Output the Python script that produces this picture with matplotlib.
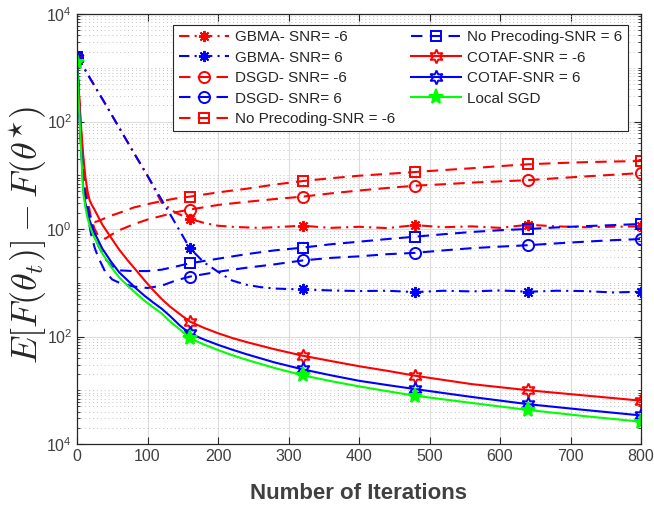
import numpy as np
import matplotlib
matplotlib.use("Agg")
import matplotlib.pyplot as plt
from matplotlib.ticker import FixedLocator, FixedFormatter, LogLocator, NullFormatter

plt.rcParams['font.family'] = ['Liberation Sans', 'DejaVu Sans']
plt.rcParams['mathtext.fontset'] = 'custom'
plt.rcParams['mathtext.rm'] = 'Liberation Sans'
plt.rcParams['mathtext.it'] = 'Liberation Sans:italic'

# ---------------- data ----------------
iters_g = [0, 20, 40, 60, 80, 100, 120, 140, 160, 180, 200, 220, 240, 260, 280,
           320, 360, 400, 440, 480, 520, 560, 600, 640, 680, 720, 760, 800]
gbma_m6 = [1650, 590, 214, 76, 27, 9.8, 3.1, 2.0, 1.55, 1.3, 1.15, 1.1, 1.07, 1.05, 1.08,
           1.15, 1.05, 1.1, 1.04, 1.18, 1.08, 1.12, 1.05, 1.2, 1.12, 1.08, 1.1, 1.12]
gbma_6 = [1650, 590, 214, 76, 27, 9.8, 3.5, 1.25, 0.44, 0.24, 0.16, 0.11, 0.092, 0.083, 0.078,
          0.075, 0.072, 0.07, 0.071, 0.067, 0.071, 0.069, 0.072, 0.068, 0.071, 0.07, 0.066, 0.068]

iters_d = [0, 5, 10, 15, 20, 25, 30, 40, 50, 60, 80, 100, 120, 140, 160, 200, 240, 280,
           320, 360, 400, 440, 480, 520, 560, 600, 640, 680, 720, 760, 800]
dsgd_m6 = [1600, 90, 12, 3.5, 1.6, 1.0, 0.75, 0.66, 0.8, 0.95, 1.22, 1.5, 1.75, 2.05, 2.3,
           2.8, 3.2, 3.6, 4.0, 4.6, 5.2, 5.8, 6.4, 6.8, 7.3, 7.7, 8.1, 8.8, 9.5, 10.2, 11]
dsgd_6 = [1600, 60, 6, 1.8, 0.8, 0.45, 0.3, 0.16, 0.115, 0.1, 0.085, 0.08, 0.088, 0.11, 0.13,
          0.16, 0.19, 0.22, 0.26, 0.29, 0.31, 0.34, 0.36, 0.4, 0.44, 0.47, 0.5, 0.54, 0.58, 0.62, 0.65]
noprec_m6 = [1600, 70, 8, 2.5, 1.4, 1.35, 1.4, 1.6, 1.8, 2.0, 2.5, 2.9, 3.3, 3.7, 4.0,
             4.8, 5.6, 6.7, 7.8, 8.8, 9.8, 10.6, 11.5, 12.5, 13.5, 14.8, 16, 16.8, 17.5, 18, 18.4]
noprec_6 = [1600, 50, 6, 2.5, 1.4, 0.8, 0.5, 0.28, 0.2, 0.17, 0.165, 0.165, 0.175, 0.2, 0.23,
            0.28, 0.34, 0.4, 0.45, 0.52, 0.58, 0.65, 0.72, 0.8, 0.88, 0.95, 1.0, 1.07, 1.13, 1.18, 1.24]

iters_s = [0, 3, 6, 9, 12, 15, 18, 21, 24, 30, 36, 48, 60, 72, 84, 96, 108, 120, 132, 146,
           160, 180, 200, 220, 240, 280, 320, 360, 400, 440, 480, 560, 640, 720, 800]
cotaf_m6 = [1500, 300, 70, 22, 9, 5, 3.4, 2.8, 2.4, 1.7, 1.2, 0.7, 0.41, 0.26, 0.17, 0.11,
            0.073, 0.05, 0.036, 0.026, 0.019, 0.0145, 0.0115, 0.0094, 0.0079, 0.0058, 0.0044,
            0.0035, 0.0028, 0.0023, 0.00186, 0.0013, 0.001, 0.0008, 0.00064]
cotaf_6 = [1500, 200, 30, 5.4, 3.0, 2.0, 1.45, 1.1, 0.9, 0.62, 0.43, 0.25, 0.155, 0.11, 0.078,
           0.057, 0.043, 0.033, 0.024, 0.016, 0.0114, 0.0088, 0.0070, 0.0057, 0.0047, 0.0033,
           0.00245, 0.0019, 0.0015, 0.00125, 0.00105, 0.00075, 0.00055, 0.00043, 0.00034]
local_sgd = [1300, 170, 25, 4.5, 2.5, 1.6, 1.15, 0.9, 0.72, 0.5, 0.35, 0.2, 0.125, 0.088, 0.063,
             0.046, 0.035, 0.027, 0.019, 0.0135, 0.0093, 0.0071, 0.0056, 0.0045, 0.0037, 0.0026,
             0.0019, 0.00148, 0.00118, 0.00096, 0.00079, 0.00058, 0.00043, 0.00033, 0.00026]

marker_iters = [0, 160, 320, 480, 640, 800]
x_ticks = [0, 100, 200, 300, 400, 500, 600, 700, 800]
y_ticks = [1e-4, 1e-2, 1e0, 1e2, 1e4]
y_ticklabels = ['$10^{4}$', '$10^{2}$', '$10^{0}$', '$10^{2}$', '$10^{4}$']

labels = ['GBMA- SNR= -6', 'GBMA- SNR= 6', 'DSGD- SNR= -6', 'DSGD- SNR= 6',
          'No Precoding-SNR = -6', 'No Precoding-SNR = 6', 'COTAF-SNR = -6',
          'COTAF-SNR = 6', 'Local SGD']

# ---------------- plot ----------------
fig = plt.figure(figsize=(6.54, 5.09), dpi=100)
ax = fig.add_axes([77/654, 1-444/509, (641-77)/654, (444-14)/509])

RED = '#ff0000'
BLUE = '#0000ff'
GREEN = '#00ff00'
lw = 1.5
dash = (5.5, 3.5)
dashdot = (5, 2.5, 1, 2.5)
ast = (8, 2, 0)
hexa = (6, 1, 0)


def mk(xs):
    return [i for i, v in enumerate(xs) if v in marker_iters]


series = [
    (iters_g, gbma_m6, RED, dashdot, ast, 'none', 8),
    (iters_g, gbma_6, BLUE, dashdot, ast, 'none', 8),
    (iters_d, dsgd_m6, RED, dash, 'o', 'none', 8),
    (iters_d, dsgd_6, BLUE, dash, 'o', 'none', 8),
    (iters_d, noprec_m6, RED, dash, 's', 'none', 7),
    (iters_d, noprec_6, BLUE, dash, 's', 'none', 7),
    (iters_s, cotaf_m6, RED, None, hexa, 'none', 10),
    (iters_s, cotaf_6, BLUE, None, hexa, 'none', 10),
    (iters_s, local_sgd, GREEN, None, '*', GREEN, 11),
]

for (xs, ys, c, ds, m, fc, ms), lab in zip(series, labels):
    line, = ax.plot(xs, ys, color=c, lw=lw, marker=m, markersize=ms,
                    markerfacecolor=fc, markeredgecolor=c, markeredgewidth=1.4,
                    markevery=mk(xs), label=lab)
    if ds is not None:
        line.set_dashes(ds)

ax.set_yscale('log')
ax.set_xlim(0, 800)
ax.set_ylim(1e-4, 1e4)
ax.xaxis.set_major_locator(FixedLocator(x_ticks))
ax.yaxis.set_major_locator(FixedLocator(y_ticks))
ax.yaxis.set_major_formatter(FixedFormatter(y_ticklabels))
ax.yaxis.set_minor_locator(LogLocator(base=10, subs=np.arange(1, 10), numticks=100))
ax.yaxis.set_minor_formatter(NullFormatter())

ax.grid(True, which='major', color='#dcdcdc', lw=0.8, ls='-')
ax.grid(True, which='minor', axis='y', color='#c4c4c4', lw=0.7, ls=(0, (1, 3)))
ax.set_axisbelow(True)

ax.tick_params(which='both', direction='in', top=True, right=True, colors='#262626',
               labelcolor='#404040', labelsize=11.5)
ax.tick_params(which='major', length=5, width=0.8)
ax.tick_params(which='minor', length=2.5, width=0.6)
for s in ax.spines.values():
    s.set_color('#262626')
    s.set_linewidth(0.9)

ax.set_xlabel('Number of Iterations', fontsize=16, fontweight='bold', color='#404040',
              labelpad=14)
ax.set_ylabel(r'$E[F(\theta_t)] - F(\theta^{\star})$', fontsize=26, color='#262626',
              math_fontfamily='cm')
ax.yaxis.set_label_coords(-0.05, 0.485)

leg = ax.legend(loc='upper right', bbox_to_anchor=(628/654, 1-25/509),
                bbox_transform=fig.transFigure, borderaxespad=0, ncol=2, fontsize=11,
                handlelength=3.3, columnspacing=1.0, handletextpad=0.4,
                labelspacing=0.42, borderpad=0.35, fancybox=False, framealpha=1,
                edgecolor='#262626')
leg.get_frame().set_linewidth(0.8)
for t in leg.get_texts():
    t.set_color('#262626')

fig.savefig('out.png', dpi=100)
